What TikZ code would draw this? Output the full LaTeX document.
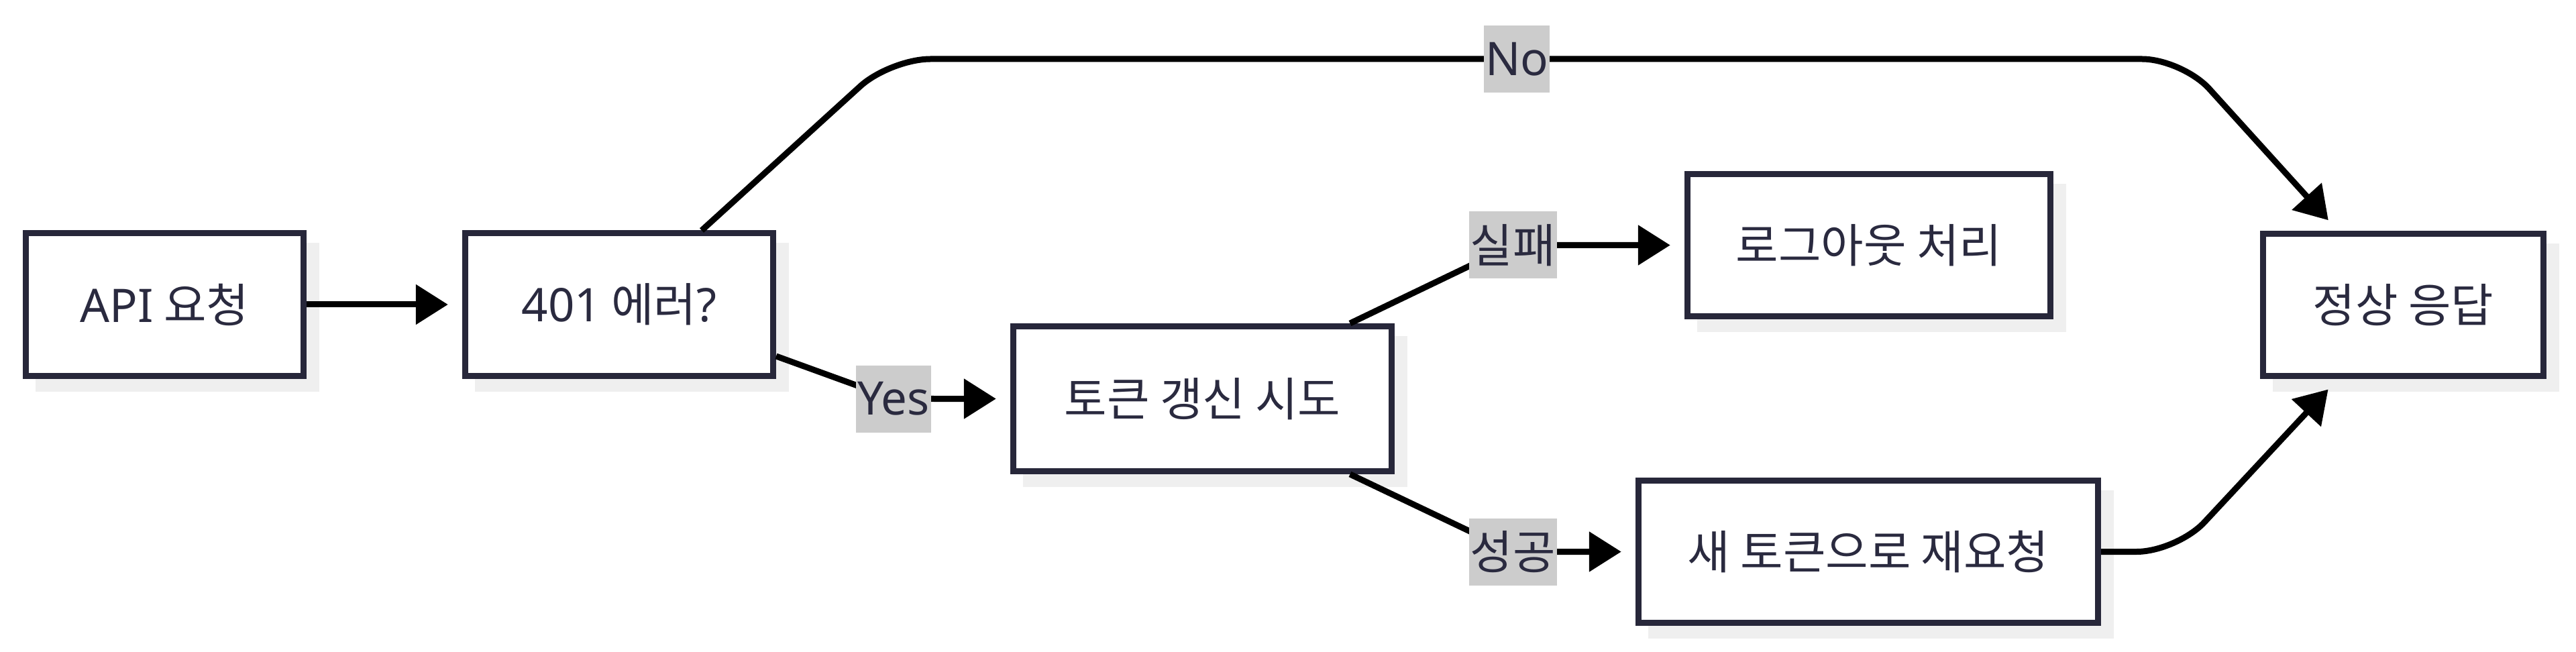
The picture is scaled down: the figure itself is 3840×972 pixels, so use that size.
\documentclass[tikz,border=0pt]{standalone}
\usepackage{fontspec}
\setmainfont{Noto Sans CJK KR}
\newfontfamily\latinfont{Noto Sans}
\usetikzlibrary{arrows.meta,shadows,calc}
\definecolor{boxline}{HTML}{27273A}
\definecolor{txt}{HTML}{2A2A3F}
\definecolor{shadowc}{HTML}{EFEFEF}
\definecolor{lblbg}{HTML}{CCCCCC}
\begin{document}
\begin{tikzpicture}[x=0.25pt,y=-0.25pt,
  box/.style={draw=boxline, line width=2.25pt, fill=white, text=txt, inner sep=0pt,
    minimum height=53pt, font=\fontsize{17.25}{20}\selectfont,
    drop shadow={shadow xshift=4.75pt, shadow yshift=-4.75pt, fill=shadowc, draw=shadowc, opacity=1}},
  lbl/.style={fill=lblbg, text=txt, inner xsep=0.5pt, inner ysep=0pt, minimum height=25pt,
    sharp corners, font=\fontsize{17.25}{20}\selectfont},
  conn/.style={draw=black, line width=2.25pt, -{Triangle[length=12pt,width=14.5pt]},
    shorten >=5.3pt, rounded corners=15pt}
]
\path[use as bounding box] (0,0) rectangle (3840,972);

\node[box, minimum width=103.5pt] (api) at (245.5,454) {{\latinfont API} 요청};
\node[box, minimum width=114.75pt] (err) at (923,454) {{\latinfont 401} 에러{\latinfont ?}};
\node[box, minimum width=141pt, minimum height=54pt] (tok) at (1792.5,594.5) {토큰 갱신 시도};
\node[box, minimum width=135.25pt] (out) at (2786,365.5) {로그아웃 처리};
\node[box, minimum width=171.25pt] (retry) at (2785,822.5) {새 토큰으로 재요청};
\node[box, minimum width=104.5pt] (ok) at (3582.5,454.5) {정상 응답};

\coordinate (n1) at (1327,88);
\coordinate (n2) at (3253,88);
\coordinate (y1) at (1332,594.5);
\coordinate (f1) at (2255,365.5);
\coordinate (s1) at (2255,822.5);
\coordinate (r1) at (3245,822.5);

\draw[conn] (api.east) -- (err.west);
\draw[conn] ($(err.north)+(123,0)$) -- (n1) -- node[lbl, pos=0.485] (nol) {\latinfont No} (n2) -- ($(ok.north)+(-97.5,0)$);
\draw[conn] ($(err.east)+(0,77)$) -- (y1) -- (tok.west);
\draw[conn] ($(tok.north)+(220,0)$) -- (f1) -- (out.west);
\draw[conn] ($(tok.south)+(220,0)$) -- (s1) -- (retry.west);
\draw[conn] (retry.east) -- (r1) -- ($(ok.south)+(-97.5,0)$);

\node[lbl] (yesl) at (y1) {\latinfont Yes};
\node[lbl] (faill) at (f1) {실패};
\node[lbl] (succl) at (s1) {성공};
\end{tikzpicture}
\end{document}
